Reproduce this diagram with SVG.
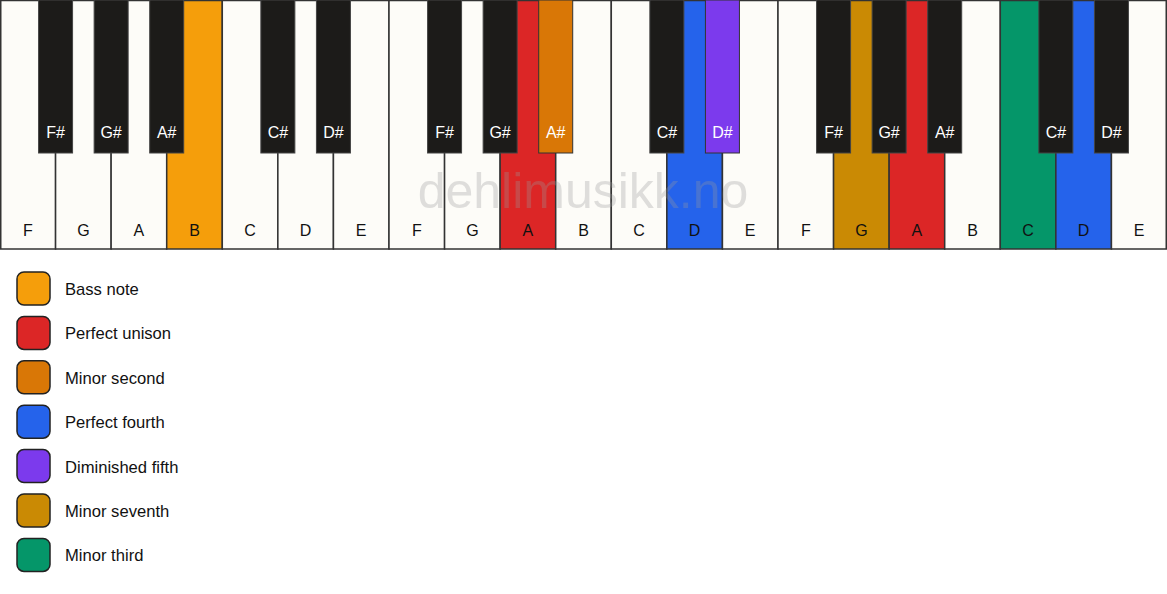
<svg xmlns="http://www.w3.org/2000/svg" width="1167" height="594" viewBox="0 0 1167 594">
<style>
.w{fill:#fdfcf8;stroke:#333;stroke-width:1.5}
.b{fill:#1c1b19;stroke:#444;stroke-width:1}
.wl{font-family:"Liberation Sans",Arial,sans-serif;font-size:16px;fill:#111;text-anchor:middle}
.bl{font-family:"Liberation Sans",Arial,sans-serif;font-size:16px;fill:#fff;text-anchor:middle}
.lg{stroke:#222;stroke-width:1.5}
.lt{font-family:"Liberation Sans",Arial,sans-serif;font-size:16.6px;fill:#111}
.wm{font-family:"Liberation Sans",Arial,sans-serif;font-size:50px;fill:#999;opacity:0.3;text-anchor:middle}
</style>
<rect width="1167" height="594" fill="#ffffff"/>
<g id="white-keys">
<g id="w0"><rect class="w" x="0.75" y="0.5" width="54.82" height="248.5"/><text class="wl" x="27.8" y="236">F</text></g>
<g id="w1"><rect class="w" x="55.57" y="0.5" width="55.57" height="248.5"/><text class="wl" x="83.4" y="236">G</text></g>
<g id="w2"><rect class="w" x="111.14" y="0.5" width="55.57" height="248.5"/><text class="wl" x="138.9" y="236">A</text></g>
<g id="w3"><rect class="w" x="166.71" y="0.5" width="55.57" height="248.5" style="fill:#f59e0b"/><text class="wl" x="194.5" y="236">B</text></g>
<g id="w4"><rect class="w" x="222.29" y="0.5" width="55.57" height="248.5"/><text class="wl" x="250.1" y="236">C</text></g>
<g id="w5"><rect class="w" x="277.86" y="0.5" width="55.57" height="248.5"/><text class="wl" x="305.6" y="236">D</text></g>
<g id="w6"><rect class="w" x="333.43" y="0.5" width="55.57" height="248.5"/><text class="wl" x="361.2" y="236">E</text></g>
<g id="w7"><rect class="w" x="389.00" y="0.5" width="55.57" height="248.5"/><text class="wl" x="416.8" y="236">F</text></g>
<g id="w8"><rect class="w" x="444.57" y="0.5" width="55.57" height="248.5"/><text class="wl" x="472.4" y="236">G</text></g>
<g id="w9"><rect class="w" x="500.14" y="0.5" width="55.57" height="248.5" style="fill:#dc2626"/><text class="wl" x="527.9" y="236">A</text></g>
<g id="w10"><rect class="w" x="555.71" y="0.5" width="55.57" height="248.5"/><text class="wl" x="583.5" y="236">B</text></g>
<g id="w11"><rect class="w" x="611.29" y="0.5" width="55.57" height="248.5"/><text class="wl" x="639.1" y="236">C</text></g>
<g id="w12"><rect class="w" x="666.86" y="0.5" width="55.57" height="248.5" style="fill:#2563eb"/><text class="wl" x="694.6" y="236">D</text></g>
<g id="w13"><rect class="w" x="722.43" y="0.5" width="55.57" height="248.5"/><text class="wl" x="750.2" y="236">E</text></g>
<g id="w14"><rect class="w" x="778.00" y="0.5" width="55.57" height="248.5"/><text class="wl" x="805.8" y="236">F</text></g>
<g id="w15"><rect class="w" x="833.57" y="0.5" width="55.57" height="248.5" style="fill:#ca8a04"/><text class="wl" x="861.4" y="236">G</text></g>
<g id="w16"><rect class="w" x="889.14" y="0.5" width="55.57" height="248.5" style="fill:#dc2626"/><text class="wl" x="916.9" y="236">A</text></g>
<g id="w17"><rect class="w" x="944.71" y="0.5" width="55.57" height="248.5"/><text class="wl" x="972.5" y="236">B</text></g>
<g id="w18"><rect class="w" x="1000.29" y="0.5" width="55.57" height="248.5" style="fill:#059669"/><text class="wl" x="1028.1" y="236">C</text></g>
<g id="w19"><rect class="w" x="1055.86" y="0.5" width="55.57" height="248.5" style="fill:#2563eb"/><text class="wl" x="1083.6" y="236">D</text></g>
<g id="w20"><rect class="w" x="1111.43" y="0.5" width="54.82" height="248.5"/><text class="wl" x="1139.2" y="236">E</text></g>
</g>
<text class="wm" x="583" y="208">dehlimusikk.no</text>
<g id="black-keys">
<g id="b1"><rect class="b" x="38.57" y="0" width="34" height="153"/><text class="bl" x="55.6" y="138">F#</text></g>
<g id="b2"><rect class="b" x="94.14" y="0" width="34" height="153"/><text class="bl" x="111.1" y="138">G#</text></g>
<g id="b3"><rect class="b" x="149.71" y="0" width="34" height="153"/><text class="bl" x="166.7" y="138">A#</text></g>
<g id="b5"><rect class="b" x="260.86" y="0" width="34" height="153"/><text class="bl" x="277.9" y="138">C#</text></g>
<g id="b6"><rect class="b" x="316.43" y="0" width="34" height="153"/><text class="bl" x="333.4" y="138">D#</text></g>
<g id="b8"><rect class="b" x="427.57" y="0" width="34" height="153"/><text class="bl" x="444.6" y="138">F#</text></g>
<g id="b9"><rect class="b" x="483.14" y="0" width="34" height="153"/><text class="bl" x="500.1" y="138">G#</text></g>
<g id="b10"><rect class="b" x="538.71" y="0" width="34" height="153" style="fill:#d97706;stroke:#333"/><text class="bl" x="555.7" y="138">A#</text></g>
<g id="b12"><rect class="b" x="649.86" y="0" width="34" height="153"/><text class="bl" x="666.9" y="138">C#</text></g>
<g id="b13"><rect class="b" x="705.43" y="0" width="34" height="153" style="fill:#7c3aed;stroke:#333"/><text class="bl" x="722.4" y="138">D#</text></g>
<g id="b15"><rect class="b" x="816.57" y="0" width="34" height="153"/><text class="bl" x="833.6" y="138">F#</text></g>
<g id="b16"><rect class="b" x="872.14" y="0" width="34" height="153"/><text class="bl" x="889.1" y="138">G#</text></g>
<g id="b17"><rect class="b" x="927.71" y="0" width="34" height="153"/><text class="bl" x="944.7" y="138">A#</text></g>
<g id="b19"><rect class="b" x="1038.86" y="0" width="34" height="153"/><text class="bl" x="1055.9" y="138">C#</text></g>
<g id="b20"><rect class="b" x="1094.43" y="0" width="34" height="153"/><text class="bl" x="1111.4" y="138">D#</text></g>
</g>
<g id="legend">
<g id="lg1"><rect class="lg" x="17" y="272" width="33" height="33" rx="7" fill="#f59e0b"/><text class="lt" x="65" y="295">Bass note</text></g>
<g id="lg2"><rect class="lg" x="17" y="316.4" width="33" height="33" rx="7" fill="#dc2626"/><text class="lt" x="65" y="339.4">Perfect unison</text></g>
<g id="lg3"><rect class="lg" x="17" y="360.8" width="33" height="33" rx="7" fill="#d97706"/><text class="lt" x="65" y="383.8">Minor second</text></g>
<g id="lg4"><rect class="lg" x="17" y="405.2" width="33" height="33" rx="7" fill="#2563eb"/><text class="lt" x="65" y="428.2">Perfect fourth</text></g>
<g id="lg5"><rect class="lg" x="17" y="449.6" width="33" height="33" rx="7" fill="#7c3aed"/><text class="lt" x="65" y="472.6">Diminished fifth</text></g>
<g id="lg6"><rect class="lg" x="17" y="494" width="33" height="33" rx="7" fill="#ca8a04"/><text class="lt" x="65" y="517">Minor seventh</text></g>
<g id="lg7"><rect class="lg" x="17" y="538.4" width="33" height="33" rx="7" fill="#059669"/><text class="lt" x="65" y="561.4">Minor third</text></g>
</g>
</svg>
